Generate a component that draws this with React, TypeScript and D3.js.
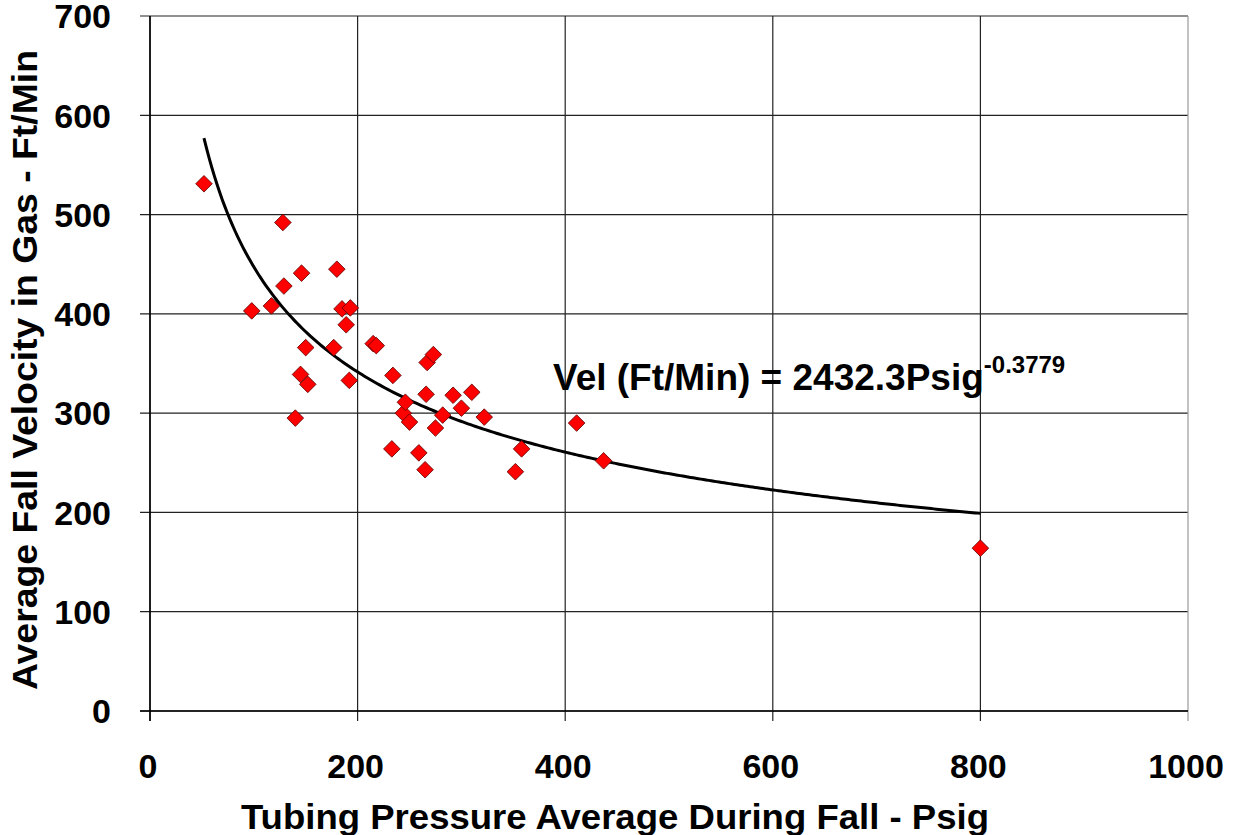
import React from "react";
import * as d3 from "d3";

const pressure = [52, 98, 117, 128, 129, 140, 145, 146, 150, 152, 177, 180, 185, 189, 192, 193, 215, 218, 233, 234, 244, 246, 250, 259, 265, 266, 267, 273, 275, 282, 292, 300, 310, 322, 352, 358, 411, 437, 800];
const velocity = [531, 403, 408, 492, 428, 295, 339, 441, 366, 329, 366, 445, 405, 389, 333, 406, 370, 368, 264, 338, 300, 311, 291, 260, 243, 319, 351, 359, 285, 298, 318, 305, 321, 296, 241, 264, 290, 252, 164];

const xTicks = [0, 200, 400, 600, 800, 1000];
const yTicks = [0, 100, 200, 300, 400, 500, 600, 700];

const trendA = 2688;
const trendB = -0.3894;

const W = 1239;
const H = 835;
const left = 150, right = 1188, top = 16, bottom = 711;
const font = "'Liberation Sans', Arial, sans-serif";

export default function App() {
  const x = d3.scaleLinear().domain([0, 1000]).range([left, right]);
  const y = d3.scaleLinear().domain([0, 700]).range([bottom, top]);
  const xmin = d3.min(pressure) as number;
  const xmax = d3.max(pressure) as number;
  const trendPts = d3.range(0, 301).map((i) => {
    const p = xmin + ((xmax - xmin) * i) / 300;
    return [p, trendA * Math.pow(p, trendB)] as [number, number];
  });
  const line = d3.line<[number, number]>().x((d) => x(d[0])).y((d) => y(d[1])).curve(d3.curveLinear);
  const r = 8.3;
  return (
    <svg width={W} height={H} style={{ position: "absolute", left: 0, top: 0, background: "#fff" }} fontFamily={font}>
      {yTicks.map((t) => (
        <line key={"gy" + t} x1={left - 10} x2={right} y1={y(t)} y2={y(t)} stroke="#222" strokeWidth={1.2} />
      ))}
      {xTicks.map((t) => (
        <line key={"gx" + t} x1={x(t)} x2={x(t)} y1={top} y2={bottom + 10} stroke={t === 1000 ? "#999" : "#222"} strokeWidth={1.2} />
      ))}
      <line x1={left} x2={left} y1={top} y2={bottom + 10} stroke="#000" strokeWidth={1.5} />
      <line x1={left - 10} x2={right} y1={bottom} y2={bottom} stroke="#000" strokeWidth={1.5} />
      {yTicks.map((t) => (
        <text key={"ty" + t} x={111} y={y(t)} dy="0.36em" textAnchor="end" fontSize={34} fontWeight="bold">{t}</text>
      ))}
      {xTicks.map((t) => (
        <text key={"tx" + t} x={x(t) - 2} y={778} textAnchor="middle" fontSize={34} fontWeight="bold">{t}</text>
      ))}
      <path d={line(trendPts) || ""} fill="none" stroke="#000" strokeWidth={3} />
      {pressure.map((p, i) => {
        const cx = x(p), cy = y(velocity[i]);
        return (
          <path key={"m" + i} d={`M${cx},${cy - r}L${cx + r},${cy}L${cx},${cy + r}L${cx - r},${cy}Z`} fill="#ff0000" stroke="#5a0000" strokeWidth={0.8} />
        );
      })}
      <text x={553} y={390} fontSize={37} fontWeight="bold">
        Vel (Ft/Min) = 2432.3Psig<tspan dy={-17} fontSize={24}>-0.3779</tspan>
      </text>
      <text x={241} y={829} fontSize={35} fontWeight="bold" textLength={748} lengthAdjust="spacingAndGlyphs">Tubing Pressure Average During Fall - Psig</text>
      <text transform={`translate(37,370) rotate(-90)`} x={-320} fontSize={35} fontWeight="bold" textLength={640} lengthAdjust="spacingAndGlyphs">Average Fall Velocity in Gas - Ft/Min</text>
    </svg>
  );
}
